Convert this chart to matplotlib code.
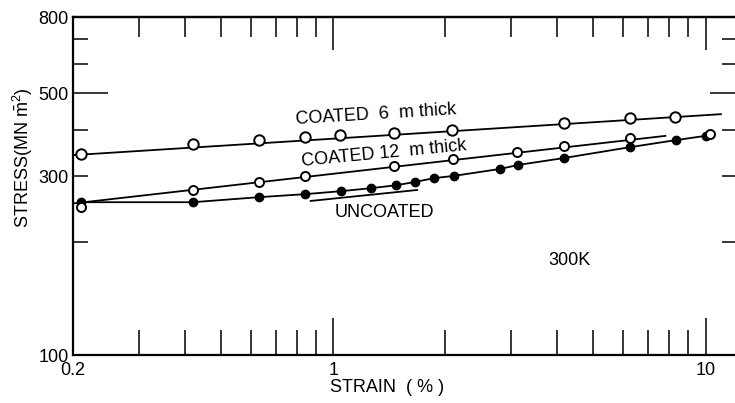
import matplotlib
matplotlib.use("Agg")
import matplotlib.pyplot as plt
from matplotlib.ticker import FixedLocator, FixedFormatter, NullFormatter

plt.rcParams['font.family'] = ['Liberation Sans', 'DejaVu Sans']
plt.rcParams['mathtext.fontset'] = 'custom'
plt.rcParams['mathtext.rm'] = 'Liberation Sans'

# Measured points (strain in %, stress in MN m^-2)
strain_6um = [0.21, 0.42, 0.63, 0.84, 1.04, 1.46, 2.09, 4.18, 6.25, 8.3]
stress_6um = [344, 366, 375, 382, 387, 392, 399, 417, 430, 433]

strain_12um = [0.21, 0.42, 0.63, 0.84, 1.46, 2.10, 3.12, 4.18, 6.25, 10.3]
stress_12um = [248, 276, 290, 301, 320, 334, 348, 361, 380, 389]

strain_unc = [0.21, 0.42, 0.63, 0.84, 1.05, 1.26, 1.47, 1.66, 1.87, 2.11,
              2.80, 3.14, 4.17, 6.25, 8.31, 10.0]
stress_unc = [256, 256, 264, 269, 274, 279, 284, 290, 297, 301,
              314, 322, 336, 359, 375, 385]

# Hand-drawn trend lines
trend6_strain = [0.2, 11.0]
trend6_stress = [342, 440]
trend12_strain = [0.2, 7.8]
trend12_stress = [254, 385]
unc_early_strain = [0.87, 1.68]
unc_early_stress = [258, 276]

# Axis ticks
x_major = [0.2, 1, 10]
x_major_labels = ["0.2", "1", "10"]
x_minor = [0.3, 0.4, 0.5, 0.6, 0.7, 0.8, 0.9, 2, 3, 4, 5, 6, 7, 8, 9]
y_major = [100, 500, 800]
y_major_labels = ["100", "500", "800"]
y_minor = [200, 300, 400, 600, 700]
y_minor_labels = ["", "300", "", "", ""]

PX = 0.72  # points per pixel at 100 dpi

fig = plt.figure(figsize=(7.35, 4.03), dpi=100)
ax = fig.add_axes([73 / 735, 48 / 403, 662 / 735, 338 / 403])
ax.set_xscale('log')
ax.set_yscale('log')
ax.set_xlim(0.2, 12.0)
ax.set_ylim(100, 800)

lw = 1.3
ax.plot(trend6_strain, trend6_stress, color='black', lw=lw)
ax.plot(trend12_strain, trend12_stress, color='black', lw=lw)
ax.plot(unc_early_strain, unc_early_stress, color='black', lw=lw)
ax.plot(strain_unc, stress_unc, color='black', lw=lw, marker='o', ms=6,
        mfc='black', mec='black')
ax.plot(strain_6um, stress_6um, ls='none', marker='o', ms=7.5, mfc='white',
        mec='black', mew=1.4)
ax.plot(strain_12um, stress_12um, ls='none', marker='o', ms=6.5, mfc='white',
        mec='black', mew=1.4)

fs = 13
ax.text(1.305, 439, "COATED  6  m thick", fontsize=fs, ha='center',
        va='center', rotation=3.5, rotation_mode='anchor')
ax.text(1.371, 346, "COATED 12  m thick", fontsize=fs, ha='center',
        va='center', rotation=5.5, rotation_mode='anchor')
ax.text(1.371, 241, "UNCOATED", fontsize=fs, ha='center', va='center')
ax.text(4.31, 179, "300K", fontsize=fs, ha='center', va='center')

for side in ('left', 'bottom', 'top'):
    ax.spines[side].set_linewidth(1.6)
ax.spines['right'].set_visible(False)

# bottom / left ticks
ax.xaxis.set_major_locator(FixedLocator(x_major))
ax.xaxis.set_major_formatter(FixedFormatter(x_major_labels))
ax.xaxis.set_minor_locator(FixedLocator(x_minor))
ax.xaxis.set_minor_formatter(NullFormatter())
ax.yaxis.set_major_locator(FixedLocator(y_major))
ax.yaxis.set_major_formatter(FixedFormatter(y_major_labels))
ax.yaxis.set_minor_locator(FixedLocator(y_minor))
ax.yaxis.set_minor_formatter(FixedFormatter(y_minor_labels))

ax.tick_params(axis='x', which='major', direction='in', length=37 * PX,
               width=1.1, labelsize=fs, pad=5, bottom=True, top=False)
ax.tick_params(axis='x', which='minor', direction='in', length=25 * PX,
               width=1.1, bottom=True, top=False)
ax.tick_params(axis='y', which='major', direction='in', length=35 * PX,
               width=1.1, labelsize=fs, pad=3, left=True, right=False)
ax.tick_params(axis='y', which='minor', direction='in', length=15 * PX,
               width=1.1, labelsize=fs, pad=3, left=True, right=False)

# top ticks
top = ax.secondary_xaxis('top')
top.xaxis.set_major_locator(FixedLocator([1, 10]))
top.xaxis.set_minor_locator(FixedLocator(x_minor))
top.xaxis.set_major_formatter(NullFormatter())
top.xaxis.set_minor_formatter(NullFormatter())
top.tick_params(which='major', direction='in', length=33 * PX, width=1.1)
top.tick_params(which='minor', direction='in', length=20 * PX, width=1.1)
top.spines['top'].set_linewidth(1.6)

# right ticks
right = ax.secondary_yaxis('right')
right.yaxis.set_major_locator(FixedLocator([500]))
right.yaxis.set_minor_locator(FixedLocator(y_minor))
right.yaxis.set_major_formatter(NullFormatter())
right.yaxis.set_minor_formatter(NullFormatter())
right.tick_params(which='major', direction='in', length=25 * PX, width=1.1)
right.tick_params(which='minor', direction='in', length=13 * PX, width=1.1)
right.spines['right'].set_visible(False)

ax.set_xlabel("STRAIN  ( % )", fontsize=fs)
ax.xaxis.set_label_coords(0.474, -0.07)
ax.set_ylabel(r"STRESS(MN $\mathregular{\bar{m}^{2}}$)", fontsize=fs)
ax.yaxis.set_label_coords(-0.057, 0.585)

fig.savefig("out.png", dpi=100)
